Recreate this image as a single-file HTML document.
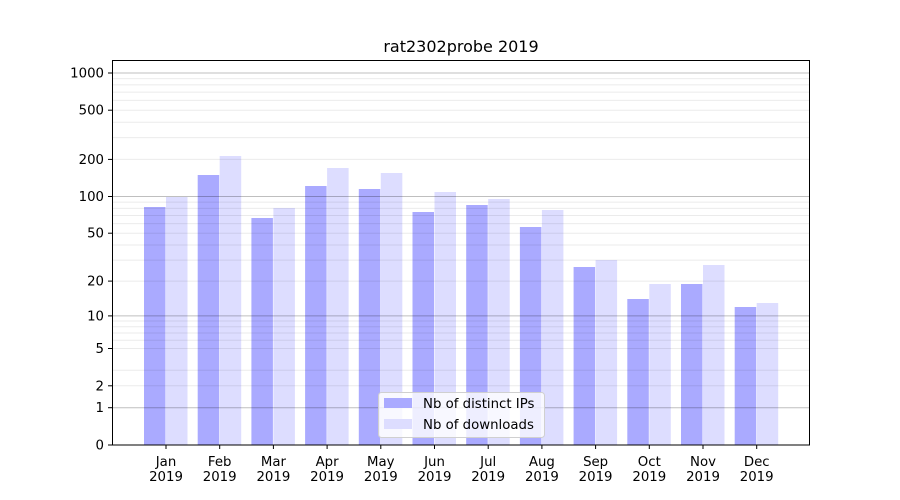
<!DOCTYPE html>
<html><head><meta charset="utf-8"><style>body{margin:0;background:#fff}svg{display:block;font-family:"DejaVu Sans","Liberation Sans",sans-serif}</style></head><body>
<svg width="900" height="500" viewBox="0 0 900 500">
<rect width="900" height="500" fill="#fff"/>
<g fill="#aaaaff">
<rect x="144" y="207" width="21.5" height="238"/><rect x="197.7" y="175" width="21.5" height="270"/><rect x="251.4" y="218" width="21.5" height="227"/><rect x="305.1" y="186" width="21.5" height="259"/><rect x="358.8" y="189" width="21.5" height="256"/><rect x="412.5" y="212" width="21.5" height="233"/><rect x="466.2" y="205" width="21.5" height="240"/><rect x="519.9" y="227" width="21.5" height="218"/><rect x="573.6" y="267" width="21.5" height="178"/><rect x="627.3" y="299" width="21.5" height="146"/><rect x="681" y="284" width="21.5" height="161"/><rect x="734.7" y="307" width="21.5" height="138"/>
</g>
<g fill="#ddddff">
<rect x="166" y="197" width="21.5" height="248"/><rect x="219.7" y="156" width="21.5" height="289"/><rect x="273.4" y="208" width="21.5" height="237"/><rect x="327.1" y="168" width="21.5" height="277"/><rect x="380.8" y="173" width="21.5" height="272"/><rect x="434.5" y="192" width="21.5" height="253"/><rect x="488.2" y="199" width="21.5" height="246"/><rect x="541.9" y="210" width="21.5" height="235"/><rect x="595.6" y="260" width="21.5" height="185"/><rect x="649.3" y="284" width="21.5" height="161"/><rect x="703" y="265" width="21.5" height="180"/><rect x="756.7" y="303" width="21.5" height="142"/>
</g>
<g stroke="#000" stroke-opacity="0.08" stroke-width="1">
<line x1="112" x2="810" y1="385.8" y2="385.8"/><line x1="112" x2="810" y1="370.3" y2="370.3"/><line x1="112" x2="810" y1="348.5" y2="348.5"/><line x1="112" x2="810" y1="340.2" y2="340.2"/><line x1="112" x2="810" y1="333" y2="333"/><line x1="112" x2="810" y1="326.7" y2="326.7"/><line x1="112" x2="810" y1="321" y2="321"/>
<line x1="112" x2="810" y1="281.1" y2="281.1"/><line x1="112" x2="810" y1="260.1" y2="260.1"/><line x1="112" x2="810" y1="245" y2="245"/><line x1="112" x2="810" y1="233.2" y2="233.2"/><line x1="112" x2="810" y1="223.6" y2="223.6"/><line x1="112" x2="810" y1="215.5" y2="215.5"/><line x1="112" x2="810" y1="208.4" y2="208.4"/><line x1="112" x2="810" y1="202.1" y2="202.1"/>
<line x1="112" x2="810" y1="159.4" y2="159.4"/><line x1="112" x2="810" y1="137.6" y2="137.6"/><line x1="112" x2="810" y1="122.2" y2="122.2"/><line x1="112" x2="810" y1="110.2" y2="110.2"/><line x1="112" x2="810" y1="100.4" y2="100.4"/><line x1="112" x2="810" y1="92.1" y2="92.1"/><line x1="112" x2="810" y1="84.9" y2="84.9"/><line x1="112" x2="810" y1="78.6" y2="78.6"/>
</g>
<g stroke="#000" stroke-opacity="0.25" stroke-width="1">
<line x1="112" x2="810" y1="407.7" y2="407.7"/><line x1="112" x2="810" y1="315.9" y2="315.9"/><line x1="112" x2="810" y1="196.5" y2="196.5"/><line x1="112" x2="810" y1="73" y2="73"/>
</g>
<rect x="112.5" y="60.5" width="697" height="384.5" fill="none" stroke="#000" stroke-width="1"/>
<g stroke="#000" stroke-width="1">
<line x1="108" x2="112" y1="445" y2="445"/><line x1="108" x2="112" y1="407.7" y2="407.7"/><line x1="108" x2="112" y1="385.8" y2="385.8"/><line x1="108" x2="112" y1="348.5" y2="348.5"/><line x1="108" x2="112" y1="315.9" y2="315.9"/><line x1="108" x2="112" y1="281.1" y2="281.1"/><line x1="108" x2="112" y1="233.2" y2="233.2"/><line x1="108" x2="112" y1="196.5" y2="196.5"/><line x1="108" x2="112" y1="159.4" y2="159.4"/><line x1="108" x2="112" y1="110.2" y2="110.2"/><line x1="108" x2="112" y1="73" y2="73"/>
<line x1="166" x2="166" y1="445" y2="449"/><line x1="219.7" x2="219.7" y1="445" y2="449"/><line x1="273.4" x2="273.4" y1="445" y2="449"/><line x1="327.1" x2="327.1" y1="445" y2="449"/><line x1="380.8" x2="380.8" y1="445" y2="449"/><line x1="434.5" x2="434.5" y1="445" y2="449"/><line x1="488.2" x2="488.2" y1="445" y2="449"/><line x1="541.9" x2="541.9" y1="445" y2="449"/><line x1="595.6" x2="595.6" y1="445" y2="449"/><line x1="649.3" x2="649.3" y1="445" y2="449"/><line x1="703" x2="703" y1="445" y2="449"/><line x1="756.7" x2="756.7" y1="445" y2="449"/>
</g>
<g font-size="13.3" fill="#000" text-anchor="end">
<text x="104" y="449.5">0</text><text x="104" y="412.2">1</text><text x="104" y="390.3">2</text><text x="104" y="353">5</text><text x="104" y="320.4">10</text><text x="104" y="285.6">20</text><text x="104" y="237.7">50</text><text x="104" y="201">100</text><text x="104" y="163.9">200</text><text x="104" y="114.7">500</text><text x="104" y="77.5">1000</text>
</g>
<g font-size="13.3" fill="#000" text-anchor="middle">
<text x="166" y="466">Jan</text><text x="219.7" y="466">Feb</text><text x="273.4" y="466">Mar</text><text x="327.1" y="466">Apr</text><text x="380.8" y="466">May</text><text x="434.5" y="466">Jun</text><text x="488.2" y="466">Jul</text><text x="541.9" y="466">Aug</text><text x="595.6" y="466">Sep</text><text x="649.3" y="466">Oct</text><text x="703" y="466">Nov</text><text x="756.7" y="466">Dec</text>
<text x="166" y="481">2019</text><text x="219.7" y="481">2019</text><text x="273.4" y="481">2019</text><text x="327.1" y="481">2019</text><text x="380.8" y="481">2019</text><text x="434.5" y="481">2019</text><text x="488.2" y="481">2019</text><text x="541.9" y="481">2019</text><text x="595.6" y="481">2019</text><text x="649.3" y="481">2019</text><text x="703" y="481">2019</text><text x="756.7" y="481">2019</text>
<text x="461" y="52" font-size="16">rat2302probe 2019</text>
</g>
<rect x="378.5" y="392.5" width="166" height="45" rx="3" fill="#fff" fill-opacity="0.8" stroke="#d0d0d0"/>
<rect x="384" y="398" width="28" height="10" fill="#aaaaff"/>
<rect x="384" y="419" width="28" height="10" fill="#ddddff"/>
<g font-size="13.3" fill="#000"><text x="423" y="408">Nb of distinct IPs</text><text x="423" y="429">Nb of downloads</text></g>
</svg>
</body></html>
